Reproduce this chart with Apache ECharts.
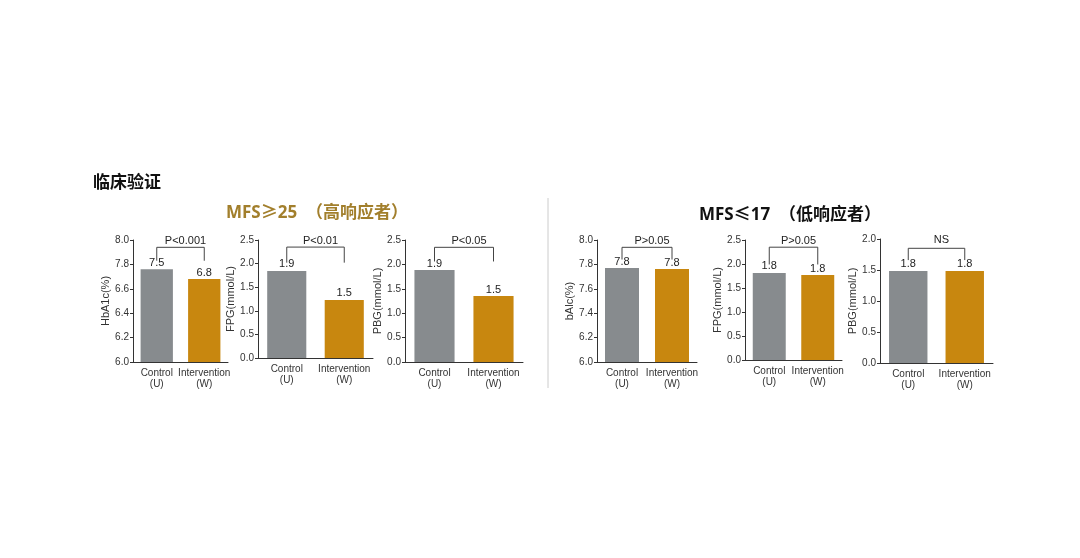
<!DOCTYPE html>
<html><head><meta charset="utf-8">
<script src="https://cdn.jsdelivr.net/npm/echarts@6/dist/echarts.min.js"></script>
<style>html,body{margin:0;background:#fff}#c{width:1080px;height:558px}</style>
</head><body><div id="c"></div>
<script>
const GREY = '#878b8e';
const GOLD = '#c8870f';

const categories = ['Control\n(U)', 'Intervention\n(W)'];
// tick labels as printed on each y axis (evenly spaced positions)
const tickLabels = [
  ['6.0', '6.2', '6.4', '6.6', '7.8', '8.0'],
  ['0.0', '0.5', '1.0', '1.5', '2.0', '2.5'],
  ['0.0', '0.5', '1.0', '1.5', '2.0', '2.5'],
  ['6.0', '6.2', '7.4', '7.6', '7.8', '8.0'],
  ['0.0', '0.5', '1.0', '1.5', '2.0', '2.5'],
  ['0.0', '0.5', '1.0', '1.5', '2.0']
];
// bar heights in tick positions
const barHeights = [[3.8, 3.4], [3.69, 2.46], [3.77, 2.7], [3.85, 3.81], [3.63, 3.54], [2.97, 2.97]];
const barLabels = [['7.5', '6.8'], ['1.9', '1.5'], ['1.9', '1.5'], ['7.8', '7.8'], ['1.8', '1.8'], ['1.8', '1.8']];
const pTexts = ['P<0.001', 'P<0.01', 'P<0.05', 'P>0.05', 'P>0.05', 'NS'];
const yNames = ['HbA1c(%)', 'FPG(mmol/L)', 'PBG(mmol/L)', 'bAlc(%)', 'FPG(mmol/L)', 'PBG(mmol/L)'];

// layout of each small chart (left, top, width, height)
const boxes = [
  [133, 240, 95, 122], [258, 240, 115, 118], [405, 240, 118, 122],
  [597, 240, 100, 122], [745, 240, 97, 120], [880, 239, 113, 124]
];

const chart = echarts.init(document.getElementById('c'));
const grid = [], xAxis = [], yAxis = [], series = [], title = [];

boxes.forEach((b, i) => {
  const max = tickLabels[i].length - 1;
  grid.push({left: b[0], top: b[1], width: b[2], height: b[3]});
  xAxis.push({
    type: 'category', gridIndex: i, data: categories,
    axisTick: {show: false},
    axisLine: {lineStyle: {color: '#333'}},
    axisLabel: {color: '#333', fontSize: 10, lineHeight: 11, interval: 0, margin: 6}
  });
  yAxis.push({
    type: 'value', gridIndex: i, min: 0, max: max, interval: 1,
    name: yNames[i], nameLocation: 'middle', nameRotate: 90, nameGap: 22,
    nameTextStyle: {color: '#333', fontSize: 11},
    splitLine: {show: false},
    axisLine: {show: true, lineStyle: {color: '#333'}},
    axisTick: {show: true, length: 3},
    axisLabel: {color: '#333', fontSize: 10, margin: 4, formatter: (v) => tickLabels[i][v]}
  });
  series.push({
    type: 'bar', xAxisIndex: i, yAxisIndex: i, barWidth: '68%',
    data: barHeights[i].map((v, k) => ({
      value: v, itemStyle: {color: k ? GOLD : GREY},
      label: {show: true, position: 'top', distance: 1, formatter: barLabels[i][k], color: '#222', fontSize: 11}
    }))
  });
  const top = max - 0.3;
  const hi = Math.max(...barHeights[i]);
  series.push({
    type: 'line', xAxisIndex: i, yAxisIndex: i, symbol: 'none', silent: true,
    lineStyle: {color: '#444', width: 1},
    data: [[0, Math.min(hi + 0.35, top - 0.1)], [0, top], [1, top], [1, Math.min(hi + 0.35, top - 0.1)]]
  });
  title.push({
    text: pTexts[i], left: b[0] + b[2] / 2, top: b[1] - 10, textAlign: 'center',
    textStyle: {fontSize: 11, fontWeight: 'normal', color: '#222'}
  });
});

title.push(
  {text: '临床验证', left: 88, top: 168, textStyle: {fontSize: 17, fontWeight: 'bold', color: '#111', fontFamily: 'Noto Sans CJK SC'}},
  {text: 'MFS≥25  （高响应者）', left: 312, top: 200, textAlign: 'center', textStyle: {fontSize: 17, fontWeight: 'bold', color: '#a27f2c', fontFamily: 'Noto Sans, Noto Sans CJK SC'}},
  {text: 'MFS≤17  （低响应者）', left: 785, top: 202, textAlign: 'center', textStyle: {fontSize: 17, fontWeight: 'bold', color: '#111', fontFamily: 'Noto Sans, Noto Sans CJK SC'}}
);

chart.setOption({
  animation: false,
  title: title,
  grid: grid, xAxis: xAxis, yAxis: yAxis, series: series,
  graphic: [{type: 'line', shape: {x1: 548, y1: 198, x2: 548, y2: 388}, style: {stroke: '#ccc', lineWidth: 1}}]
});
</script></body></html>
